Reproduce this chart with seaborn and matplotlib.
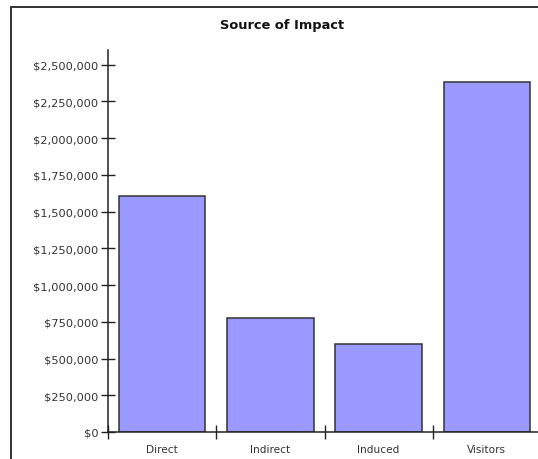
import matplotlib
matplotlib.use("Agg")
import matplotlib.pyplot as plt
from matplotlib.patches import Rectangle
from matplotlib.ticker import FuncFormatter, FixedLocator, NullFormatter
import seaborn as sns
import pandas as pd

categories = ["Direct", "Indirect", "Induced", "Visitors"]
impact = [1605000, 775000, 598000, 2382000]
y_ticks = [0, 250000, 500000, 750000, 1000000, 1250000, 1500000,
           1750000, 2000000, 2250000, 2500000]

sns.set_style("white")
plt.rcParams["font.family"] = ["DejaVu Sans"]

W, H = 538, 460
fig = plt.figure(figsize=(W / 100, H / 100), dpi=100)
fig.patch.set_facecolor("white")

# plot area: left spine at x=108px, baseline at y=433px, top at y=51px
ax = fig.add_axes([108 / W, (H - 433) / H, 433 / W, (433 - 51) / H])
df = pd.DataFrame({"source": categories, "impact": impact})
sns.barplot(data=df, x="source", y="impact", ax=ax, color="#9999ff",
            saturation=1, width=0.8, edgecolor="#333333", linewidth=1.1)

ax.set_xlim(-0.5, 3.5)
ax.set_ylim(0, 2600000)
ax.set_xlabel("")
ax.set_ylabel("")

# y axis
ax.yaxis.set_major_locator(FixedLocator(y_ticks))
ax.yaxis.set_major_formatter(FuncFormatter(lambda v, p: f"${v:,.0f}"))
ax.tick_params(axis="y", direction="inout", length=10.5, width=1,
               color="#222222", pad=1.8, labelsize=8.2, labelcolor="#333333",
               left=True)

# x axis: ticks at band boundaries, labels centred in each band
ax.xaxis.set_major_locator(FixedLocator([-0.5, 0.5, 1.5, 2.5]))
ax.xaxis.set_major_formatter(NullFormatter())
ax.xaxis.set_minor_locator(FixedLocator(range(len(categories))))
ax.set_xticklabels(categories, minor=True)
ax.tick_params(axis="x", which="major", direction="inout", length=10,
               width=1, color="#222222", bottom=True)
ax.tick_params(axis="x", which="minor", length=0, pad=8.5, labelsize=7.6,
               labelcolor="#333333", bottom=True)

for s in ["top", "right"]:
    ax.spines[s].set_visible(False)
for s in ["left", "bottom"]:
    ax.spines[s].set_color("#222222")
    ax.spines[s].set_linewidth(1.1)

fig.text(282 / W, 1 - 25 / H, "Source of Impact", ha="center", va="center",
         fontsize=9.4, fontweight="bold", color="#111111")

# outer frame
fig.patches.append(Rectangle((10.5 / W, -0.1), 2, (H - 7.5) / H + 0.1,
                             transform=fig.transFigure, fill=False,
                             lw=1.4, ec="#333333"))

fig.savefig("out.png", dpi=100)
